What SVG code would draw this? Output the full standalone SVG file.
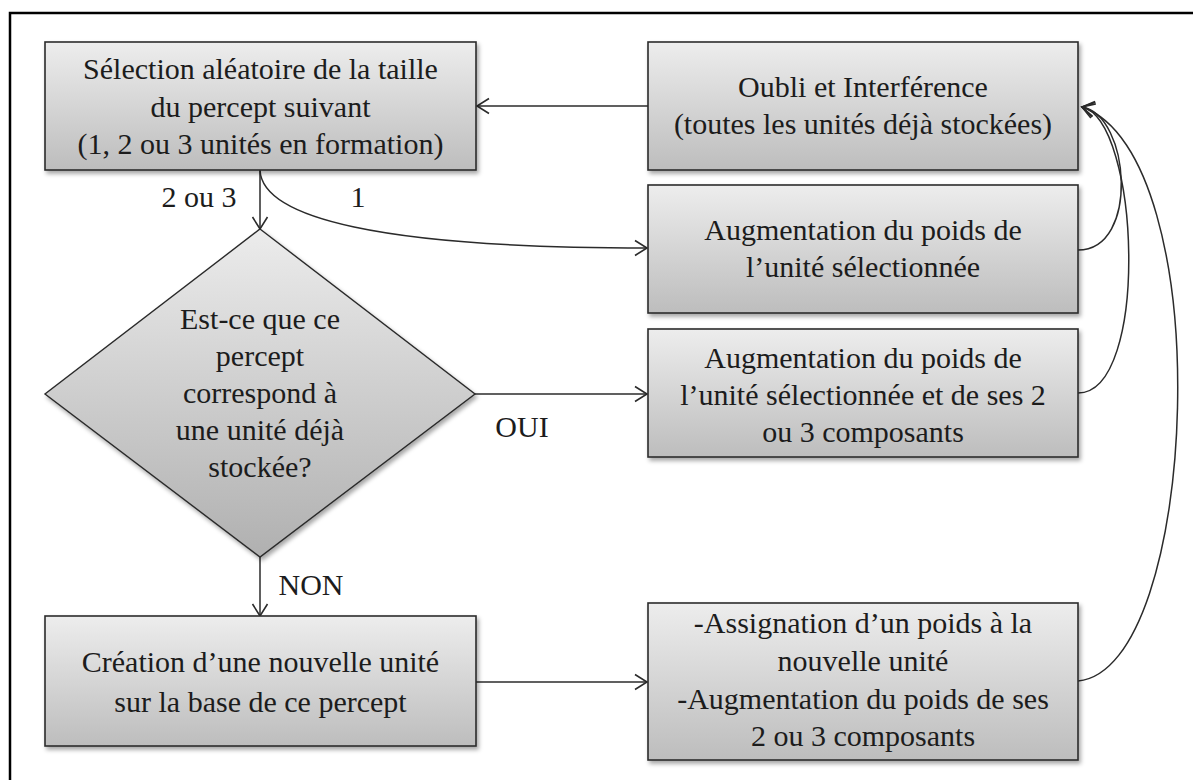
<svg xmlns="http://www.w3.org/2000/svg" width="1193" height="780" viewBox="0 0 1193 780" font-family="'Liberation Serif','DejaVu Serif','Times New Roman',serif">
<style>
.box{stroke:#2b2b2b;stroke-width:1.6;fill:url(#g);filter:url(#sh)}
.dia{stroke:#2b2b2b;stroke-width:1.4;fill:url(#gd);filter:url(#sh)}
.t{font-family:'Liberation Serif','DejaVu Serif','Times New Roman',serif;font-size:30px;fill:#1c1c1c;text-anchor:middle}
.con{fill:none;stroke:#2b2b2b;stroke-width:1.5}
</style>
<defs>
<linearGradient id="g" x1="0" y1="0" x2="0" y2="1">
<stop offset="0" stop-color="#ededed"/>
<stop offset="1" stop-color="#bdbdbd"/>
</linearGradient>
<linearGradient id="gd" x1="0" y1="0" x2="0" y2="1">
<stop offset="0" stop-color="#ececec"/>
<stop offset="1" stop-color="#b0b0b0"/>
</linearGradient>
<filter id="sh" x="-5%" y="-5%" width="115%" height="120%">
<feDropShadow dx="2" dy="3" stdDeviation="2" flood-color="#000" flood-opacity="0.35"/>
</filter>
<marker id="ar" markerUnits="userSpaceOnUse" markerWidth="30" markerHeight="30" viewBox="-15 -15 30 30" refX="0" refY="0" orient="auto">
<path d="M-12,-7.5 L0,0 L-12,7.5" fill="none" stroke="#2b2b2b" stroke-width="1.6"/>
</marker>
</defs>
<rect x="10" y="13" width="1200" height="800" fill="#fff" stroke="#000" stroke-width="2.5"/>

<g id="connectors">
<path class="con" d="M648,106 L477,106" marker-end="url(#ar)"/>
<path class="con" d="M260,170 L260,229" marker-end="url(#ar)"/>
<path class="con" d="M260,170 C262,218 380,248 647,248" marker-end="url(#ar)"/>
<path class="con" d="M475,394 L647,394" marker-end="url(#ar)"/>
<path class="con" d="M260,557 L260,616" marker-end="url(#ar)"/>
<path class="con" d="M476,682 L647,682" marker-end="url(#ar)"/>
<path class="con" d="M1078,250 C1140,250 1130,115 1082,107" marker-end="url(#ar)"/>
<path class="con" d="M1078,393 C1150,393 1140,120 1082,107" marker-end="url(#ar)"/>
<path class="con" d="M1078,681 C1200,670 1220,155 1082,107" marker-end="url(#ar)"/>
<text class="t" x="199" y="207">2 ou 3</text>
<text class="t" x="358" y="207">1</text>
<text class="t" x="522" y="437">OUI</text>
<text class="t" x="311" y="595">NON</text>
</g>

<g id="n-selection">
<rect class="box" x="45" y="42" width="431" height="128"/>
<text class="t" x="260.5" y="79">Sélection aléatoire de la taille</text>
<text class="t" x="260.5" y="117">du percept suivant</text>
<text class="t" x="260.5" y="154">(1, 2 ou 3 unités en formation)</text>
</g>

<g id="n-oubli">
<rect class="box" x="648" y="42" width="430" height="128"/>
<text class="t" x="863" y="97">Oubli et Interférence</text>
<text class="t" x="863" y="134">(toutes les unités déjà stockées)</text>
</g>

<g id="n-aug1">
<rect class="box" x="648" y="185" width="430" height="128"/>
<text class="t" x="863" y="240">Augmentation du poids de</text>
<text class="t" x="863" y="277">l’unité sélectionnée</text>
</g>

<g id="n-aug2">
<rect class="box" x="648" y="329" width="430" height="128"/>
<text class="t" x="863" y="368">Augmentation du poids de</text>
<text class="t" x="863" y="405">l’unité sélectionnée et de ses 2</text>
<text class="t" x="863" y="442">ou 3 composants</text>
</g>

<g id="n-question">
<polygon class="dia" points="260,229 475,394 260,557 45,394"/>
<text class="t" x="260" y="329">Est-ce que ce</text>
<text class="t" x="260" y="366">percept</text>
<text class="t" x="260" y="403">correspond à</text>
<text class="t" x="260" y="440">une unité déjà</text>
<text class="t" x="260" y="477">stockée?</text>
</g>

<g id="n-creation">
<rect class="box" x="45" y="616" width="431" height="130"/>
<text class="t" x="260.5" y="672">Création d’une nouvelle unité</text>
<text class="t" x="260.5" y="712">sur la base de ce percept</text>
</g>

<g id="n-assignation">
<rect class="box" x="648" y="603" width="430" height="157"/>
<text class="t" x="863" y="633">-Assignation d’un poids à la</text>
<text class="t" x="863" y="671">nouvelle unité</text>
<text class="t" x="863" y="709">-Augmentation du poids de ses</text>
<text class="t" x="863" y="746">2 ou 3 composants</text>
</g>
</svg>
